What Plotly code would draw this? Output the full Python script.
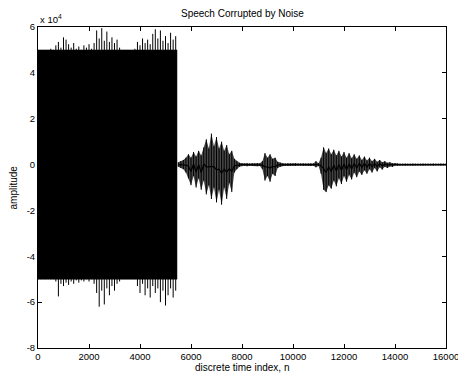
import plotly.graph_objects as go

# sample index grid (every 100 samples) and envelope values (units of 1e4)
n_index = list(range(0, 16001, 100))

upper = [
    5.0, 5.0, 5.0, 5.0, 5.0, 5.05, 5.0, 5.2, 5.35, 5.1,
    5.55, 5.45, 5.25, 5.1, 5.3, 5.05, 5.15, 5.0, 5.2, 5.1,
    5.25, 5.05, 5.3, 5.85, 5.5, 5.95, 5.4, 5.8, 5.35, 5.55,
    5.3, 5.45, 5.1, 5.0, 5.0, 5.0, 5.0, 5.0, 5.05, 5.35,
    5.2, 5.5, 5.3, 5.45, 5.25, 5.7, 5.9, 5.5, 5.85, 5.4,
    5.6, 5.3, 5.75, 5.45, 5.6, 0.1, 0.15, 0.2, 0.3, 0.45,
    0.3, 0.55, 0.35, 0.6, 0.4, 0.75, 1.1, 0.7, 1.35, 0.8,
    1.2, 0.7, 1.0, 0.6, 0.85, 0.45, 0.6, 0.25, 0.15, 0.08,
    0.06, 0.05, 0.07, 0.05, 0.06, 0.05, 0.07, 0.06, 0.15, 0.5,
    0.3, 0.45, 0.25, 0.3, 0.12, 0.08, 0.06, 0.05, 0.06, 0.05,
    0.05, 0.06, 0.05, 0.05, 0.06, 0.05, 0.05, 0.06, 0.05, 0.15,
    0.06, 0.3, 0.75, 0.5, 0.7, 0.45, 0.65, 0.4, 0.6, 0.35,
    0.55, 0.3, 0.5, 0.28, 0.45, 0.25, 0.4, 0.2, 0.35, 0.18,
    0.3, 0.15, 0.25, 0.12, 0.2, 0.1, 0.15, 0.08, 0.1, 0.06,
    0.07, 0.05, 0.04, 0.04, 0.05, 0.04, 0.04, 0.05, 0.04, 0.04,
    0.04, 0.05, 0.04, 0.04, 0.04, 0.05, 0.04, 0.04, 0.05, 0.04,
    0.04,
]

lower = [
    -5.0, -5.0, -5.0, -5.0, -5.0, -5.0, -5.0, -5.1, -5.75, -5.2,
    -5.3, -5.15, -5.25, -5.1, -5.2, -5.05, -5.15, -5.05, -5.1, -5.0,
    -5.1, -5.0, -5.2, -5.6, -6.2, -5.5, -6.1, -5.4, -5.7, -5.3,
    -5.5, -5.2, -5.1, -5.0, -5.0, -5.0, -5.0, -5.0, -5.0, -5.3,
    -5.6, -5.2, -5.7, -5.4, -5.8, -5.3, -5.6, -5.4, -6.0, -5.5,
    -6.15, -5.7, -5.4, -5.8, -5.5, -0.1, -0.15, -0.2, -0.35, -0.6,
    -0.9, -0.5, -1.0, -0.6, -1.1, -0.7, -1.3, -0.9, -1.5, -1.0,
    -1.65, -1.1, -1.75, -1.0, -1.5, -0.8, -1.2, -0.35, -0.2, -0.1,
    -0.06, -0.05, -0.07, -0.05, -0.06, -0.05, -0.07, -0.06, -0.2, -0.7,
    -0.5, -0.75, -0.4, -0.5, -0.15, -0.1, -0.06, -0.05, -0.06, -0.05,
    -0.05, -0.06, -0.05, -0.05, -0.06, -0.05, -0.05, -0.06, -0.05, -0.12,
    -0.06, -0.4, -1.1, -1.2, -0.9, -1.05, -0.7, -0.95, -0.6, -0.85,
    -0.5, -0.75, -0.45, -0.65, -0.35, -0.55, -0.3, -0.45, -0.25, -0.4,
    -0.2, -0.35, -0.15, -0.3, -0.12, -0.22, -0.1, -0.15, -0.08, -0.1,
    -0.05, -0.05, -0.04, -0.04, -0.05, -0.04, -0.04, -0.05, -0.04, -0.04,
    -0.04, -0.05, -0.04, -0.04, -0.04, -0.05, -0.04, -0.04, -0.05, -0.04,
    -0.04,
]

noise_end_index = 5450   # where the noise-only stretch stops
noise_level = 5.0        # clipping level of the noise (units of 1e4)

x_ticks = [0, 2000, 4000, 6000, 8000, 10000, 12000, 14000, 16000]
y_ticks = [-8, -6, -4, -2, 0, 2, 4, 6]

k = sum(1 for n in n_index if n <= noise_end_index)

fig = go.Figure()

# solid body of the clipped noise stretch
fig.add_trace(go.Scatter(x=[0, noise_end_index, noise_end_index, 0],
                         y=[noise_level, noise_level, -noise_level, -noise_level],
                         mode="lines", fill="toself", fillcolor="black",
                         line=dict(color="black", width=0.5),
                         hoverinfo="skip", showlegend=False))

# darker core of the speech stretch
sx = n_index[k:]
fig.add_trace(go.Scatter(x=sx + sx[::-1], y=upper[k:] + lower[k:][::-1],
                         mode="lines", fill="toself", fillcolor="rgba(0,0,0,0.72)",
                         line=dict(color="rgba(0,0,0,0)", width=0),
                         hoverinfo="skip", showlegend=False))

# vertical oscillation strokes
xs, ys = [], []
for n, hi, lo in zip(n_index, upper, lower):
    xs += [n, n, None]
    ys += [hi, lo, None]
fig.add_trace(go.Scatter(x=xs, y=ys, mode="lines", connectgaps=False,
                         line=dict(color="black", width=1.0),
                         hoverinfo="skip", showlegend=False))

# thin centre line continuing through the quiet parts
fig.add_trace(go.Scatter(x=n_index[k:], y=[(h + l) / 2 for h, l in zip(upper[k:], lower[k:])],
                         mode="lines", line=dict(color="black", width=1.2),
                         hoverinfo="skip", showlegend=False))

font = "Liberation Sans, Arial, Helvetica, sans-serif"
axis_common = dict(showgrid=False, zeroline=False, showline=True, linecolor="black",
                   linewidth=1, mirror="allticks", ticks="inside", ticklen=4,
                   tickcolor="black", ticklabeloverflow="allow", automargin=False,
                   tickfont=dict(family=font, size=9.5, color="black"))

fig.update_layout(
    width=458, height=374,
    margin=dict(l=38, r=12, t=27, b=26),
    paper_bgcolor="white", plot_bgcolor="white",
    xaxis=dict(range=[0, 16000], tickvals=x_ticks, ticktext=[str(v) for v in x_ticks],
               **axis_common),
    yaxis=dict(range=[-8, 6], tickvals=y_ticks, ticktext=[str(v) for v in y_ticks],
               **axis_common),
    annotations=[
        dict(text="Speech Corrupted by Noise", x=0.5, y=1, xref="paper", yref="paper",
             xanchor="center", yanchor="bottom", yshift=6, showarrow=False,
             font=dict(family=font, size=10, color="black")),
        dict(text="x 10<sup>4</sup>", x=0, y=1, xref="paper", yref="paper",
             xanchor="left", yanchor="bottom", yshift=0, showarrow=False,
             font=dict(family=font, size=9.5, color="black")),
        dict(text="discrete time index, n", x=0.5, y=0, xref="paper", yref="paper",
             xanchor="center", yanchor="top", yshift=-12, showarrow=False,
             font=dict(family=font, size=10, color="black")),
        dict(text="amplitude", x=0, y=0.5, xref="paper", yref="paper",
             xanchor="center", yanchor="middle", xshift=-25, textangle=-90,
             showarrow=False, font=dict(family=font, size=10, color="black")),
    ],
)

fig.write_html("out.html", config={"displayModeBar": False},
               post_script="document.body.style.margin='0';"
                           "document.body.style.overflow='hidden';")
